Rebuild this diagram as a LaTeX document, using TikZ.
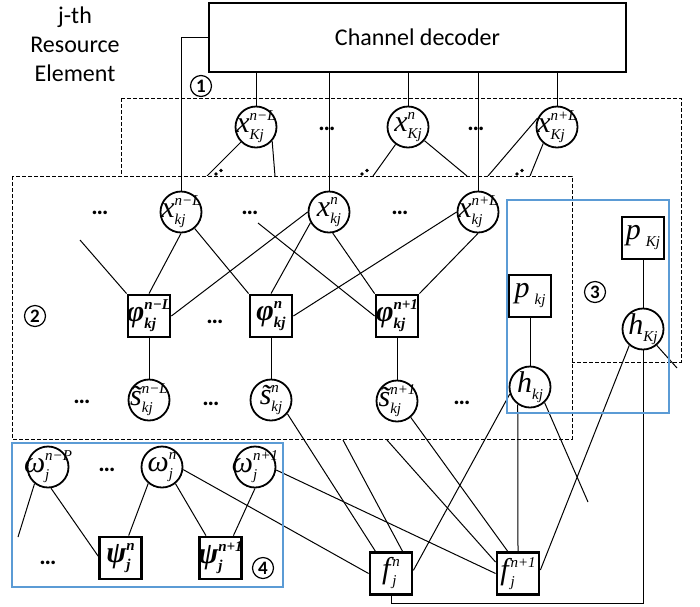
\documentclass[tikz,border=0pt]{standalone}
\usepackage{fontspec}
\setmainfont{Carlito}
\newfontfamily\tnr{Liberation Serif}
% indices of a label: upper one over lower one
\newcommand{\sx}[1]{{\tnr\itshape\fontsize{7.5}{7.5}\selectfont #1}}
\newcommand{\sxb}[1]{{\tnr\bfseries\itshape\fontsize{7.5}{7.5}\selectfont #1}}
\newcommand{\ix}[2]{\ooalign{\raisebox{6pt}{#1}\cr\raisebox{-3.5pt}{#2}\cr}}
\newcommand{\nl}[1]{\makebox[0pt]{#1}}
\newcommand{\vi}[1]{{\tnr\itshape #1}}
\newcommand{\vb}[1]{{\tnr\bfseries\itshape #1}}
\definecolor{grpblue}{RGB}{91,155,213}
\tikzset{
  var/.style={circle,draw,fill=white,line width=0.9pt,minimum size=20.5pt,inner sep=0pt,font=\fontsize{15}{15}\selectfont},
  fac/.style={rectangle,draw,fill=white,line width=1.4pt,minimum size=21pt,inner sep=0pt,font=\fontsize{15}{15}\selectfont},
  pri/.style={fac,line width=0.9pt},
  etc/.style={font=\bfseries\fontsize{12}{12}\selectfont,inner sep=0pt},
  num/.style={circle,draw,line width=0.6pt,inner sep=0.5pt,minimum size=10.5pt,font=\bfseries\fontsize{9.5}{9.5}\selectfont},
  layer/.style={line width=0.5pt,dash pattern=on 2pt off 1pt},
  grp/.style={draw=grpblue,line width=0.6pt}
}
\begin{document}
\begin{tikzpicture}[x=0.5pt,y=-0.5pt,line width=0.5pt]
\useasboundingbox (0,0) rectangle (700,606);

\node[draw,line width=0.8pt,minimum width=208.5pt,minimum height=34.5pt,font=\fontsize{12}{14}\selectfont] (dec) at (417.5,37.5) {Channel decoder};
\node[align=center,font=\fontsize{12}{14.5}\selectfont] (re) at (75,44) {j-th\\Resource\\Element};

% K-th user, drawn behind
\draw[layer] (121,98) rectangle (681,362);
\node[var] (xKa) at (256,127) {\nl{\vi{x}\ix{\sx{n−L}}{\sx{Kj}}}};
\node[var] (xKb) at (408,127) {\nl{\vi{x}\ix{\sx{n}}{\sx{Kj}}}};
\node[var] (xKc) at (557,127) {\nl{\vi{x}\ix{\sx{n+L}}{\sx{Kj}}}};
\node[etc] (eK1) at (327,129) {…};
\node[etc] (eK2) at (476,129) {…};
\node[pri] (pK) at (643,238) {\nl{\vi{p}\,\ix{}{\sx{Kj}}}};
\node[var] (hK) at (643,329) {\nl{\vi{h}\ix{}{\sx{Kj}}}};
\foreach \a/\d in {dec/xKa,dec/xKb,dec/xKc}
  \draw (\d.north) -- (\d.north |- \a.south);
% edges going under the k-th layer
\coordinate (ka1) at (207,176); \coordinate (ka2) at (275,176);
\coordinate (kb1) at (373,176); \coordinate (kb2) at (467,176);
\coordinate (kc1) at (488,176); \coordinate (kc2) at (530,176);
\draw (xKa) -- (ka1); \draw (xKa.-41) -- (ka2);
\draw (xKb) -- (kb1); \draw (xKb) -- (kb2);
\draw (xKc.155) -- (kc1); \draw (xKc.230) -- (kc2);
\foreach \cx/\cy in {216/174,362/174,517/174}
  \foreach \d in {-1,0,1}
    \fill (\cx+5*\d,\cy-3.5*\d) circle (0.9pt);

% k-th user
\draw[layer,fill=white] (12,176) rectangle (572,439);
\node[var] (xka) at (181,212) {\nl{\vi{x}\ix{\sx{n−L}}{\sx{kj}}}};
\node[var] (xkb) at (329,212) {\nl{\vi{x}\ix{\sx{n}}{\sx{kj}}}};
\node[var] (xkc) at (478,212) {\nl{\vi{x}\ix{\sx{n+L}}{\sx{kj}}}};
\node[fac] (phia) at (149,316) {\nl{\vb{φ}\ix{\sxb{n−L}}{\sxb{kj}}}};
\node[fac] (phib) at (271,316) {\nl{\vb{φ}\ix{\sxb{n}}{\sxb{kj}}}};
\node[fac] (phic) at (397,316) {\nl{\vb{φ}\ix{\sxb{n+1}}{\sxb{kj}}}};
\node[var] (sa) at (149,400) {\nl{\vi{\~s}\ix{\sx{n−L}}{\sx{kj}}}};
\node[var] (sb) at (271,400) {\nl{\vi{\~s}\ix{\sx{n}}{\sx{kj}}}};
\node[var] (sc) at (397,401) {\nl{\vi{\~s}\ix{\sx{n+1}}{\sx{kj}}}};
\node[pri] (pk) at (530,296) {\nl{\vi{p}\,\ix{}{\sx{kj}}}};
\node[var] (hk) at (530,387) {\nl{\vi{h}\ix{}{\sx{kj}}}};
\node[etc] (e1) at (100,213) {…};
\node[etc] (e2) at (250,213) {…};
\node[etc] (e3) at (400,213) {…};
\node[etc] (e4) at (215,322) {…};
\node[etc] (e5) at (82,402) {…};
\node[etc] (e6) at (211,404) {…};
\node[etc] (e7) at (462,403) {…};

\draw (dec.west) -| (xka.north);
\draw (xkb.north) -- (xkb.north |- dec.south);
\draw (xkc.north) -- (xkc.north |- dec.south);
\draw (xka.south) -- (phia.north);
\draw (xka) -- (phib.north west);
\draw (phia.east) -- (xkb.west);
\draw (xkb.210) -- (phib.north);
\draw (xkb.-80) -- (phic.north west);
\draw (phib.east) -- (xkc.west);
\draw (xkc.south) -- (phic.north east);
\coordinate (la) at (80,240); \draw (la) -- (phia.north west);
\coordinate (lb) at (258,223); \draw (lb) -- (phic.west);
\foreach \a in {a,b,c}
  \draw (phi\a) -- (s\a);
\draw (pk) -- (hk);
\draw (pK) -- (hK);

% j-th resource element
\node[var] (wa) at (48,467) {\nl{\vi{ω}\ix{\sx{n−P}}{\sx{j}}}};
\node[var] (wb) at (162,467) {\nl{\vi{ω}\ix{\sx{n}}{\sx{j}}}};
\node[var] (wc) at (255,467) {\nl{\vi{ω}\ix{\sx{n+1}}{\sx{j}}}};
\node[fac] (psia) at (120.5,558) {\nl{\vb{ψ}\ix{\sxb{n}}{\sxb{j}}}};
\node[fac] (psib) at (220.5,558) {\nl{\vb{ψ}\ix{\sxb{n+1}}{\sxb{j}}}};
\node[etc] (e8) at (107,470) {…};
\node[etc] (e9) at (48,563) {…};
\node[fac] (fa) at (391,573.5) {\nl{\vi{f}\kern1pt\ix{\sx{n}}{\sx{j}}}};
\node[fac] (fb) at (518,573.5) {\nl{\vi{f}\kern1pt\ix{\sx{n+1}}{\sx{j}}}};

\coordinate (wl) at (18,537); \draw (wa.231) -- (wl);
\draw (wa.-82) -- (psia.175);
\draw (wb.230) -- (psia.70);
\draw (wb.-51) -- (psib.123);
\draw (wc.south) -- (psib.60);
\draw (wb.-7) -- (fa.west);
\draw (wc.-8) -- (fb.west);

% into the f factors
\draw (sb.-40) -- (fa.125);
\draw (sc.-50) -- (fb.115);
\coordinate (ra) at (343,440); \draw (ra) -- (fa.63);
\coordinate (rb) at (387,440); \draw (rb) -- (fb.153);
\draw (hk.199) -- (fa.8);
\draw (hk.235) -- (fb.north);
\coordinate (rc) at (588,502); \draw (hk.-47) -- (rc);
\draw (hK.230) -- (fb.9);
\coordinate (rd) at (677,368); \draw (hK.-50) -- (rd);
\coordinate (bot) at (643,603); \draw (hK) -- (bot) -| (fa.south);

% group frames and tags
\draw[grp] (507,200) rectangle (669,413);
\draw[grp] (12,443) rectangle (283,587);
\node[num] (n1) at (201,86) {1};
\node[num] (n2) at (35,316) {2};
\node[num] (n3) at (595,292) {3};
\node[num] (n4) at (263,568) {4};
\end{tikzpicture}
\end{document}
